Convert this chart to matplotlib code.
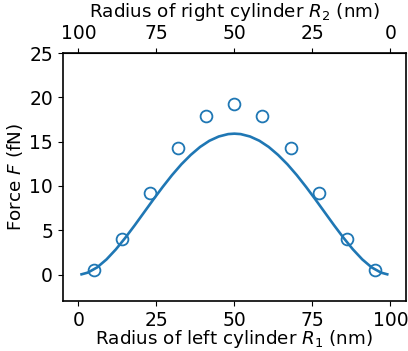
import matplotlib
matplotlib.use("Agg")
import matplotlib.pyplot as plt

# measured points (circles)
r1_points = [5, 14, 23, 32, 41, 50, 59, 68, 77, 86, 95]
force_points = [0.5, 4.0, 9.2, 14.3, 17.9, 19.2, 17.9, 14.3, 9.2, 4.0, 0.5]

# model curve
r1_curve = [1, 3, 6, 9, 12, 15, 18, 21, 24, 27, 30, 33, 36, 39, 42, 45, 48, 50,
            52, 55, 58, 61, 64, 67, 70, 73, 76, 79, 82, 85, 88, 91, 94, 97, 99]
force_curve = [0.03, 0.22, 0.81, 1.71, 2.84, 4.14, 5.54, 7.00, 8.46, 9.88, 11.22,
               12.44, 13.50, 14.40, 15.10, 15.58, 15.85, 15.90,
               15.85, 15.58, 15.10, 14.40, 13.50, 12.44, 11.22, 9.88, 8.46, 7.00,
               5.54, 4.14, 2.84, 1.71, 0.81, 0.22, 0.03]

xticks = [0, 25, 50, 75, 100]
yticks = [0, 5, 10, 15, 20, 25]

plt.rcParams['font.size'] = 13.5
fig = plt.figure(figsize=(4.08, 3.51), dpi=100)
ax = fig.add_axes([0.154, 0.142, 0.841, 0.707])

ax.plot(r1_curve, force_curve, color='#1f77b4', lw=1.9)
ax.plot(r1_points, force_points, 'o', ms=8.5, mfc='none', mec='#1f77b4', mew=1.3)

ax.set_xlim(-5, 105)
ax.set_ylim(-3, 25)
ax.set_xticks(xticks)
ax.set_yticks(yticks)
ax.set_xlabel('Radius of left cylinder $R_1$ (nm)', labelpad=-1, fontsize=13.2)
ax.set_ylabel('Force $F$ (fN)', labelpad=3, fontsize=13.2)

top = ax.secondary_xaxis('top', functions=(lambda x: 100 - x, lambda x: 100 - x))
top.set_xticks(xticks)
top.set_xlabel('Radius of right cylinder $R_2$ (nm)', labelpad=5, fontsize=13.2)

for s in ax.spines.values():
    s.set_linewidth(1.2)

fig.savefig('out.png', dpi=100)
